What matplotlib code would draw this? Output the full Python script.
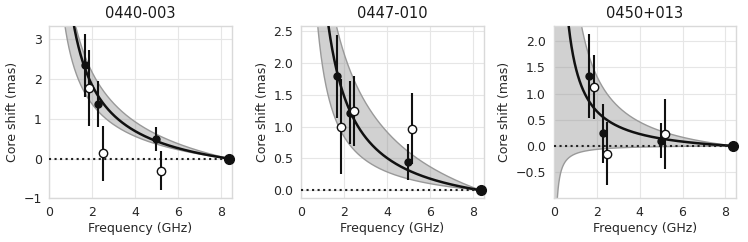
import numpy as np
import matplotlib
matplotlib.use("Agg")
import matplotlib.pyplot as plt
import seaborn as sns

sns.set_style("whitegrid")
plt.rcParams['font.family'] = ['DejaVu Sans']

titles = ["0440-003", "0447-010", "0450+013"]
nu_ref = 8.36

# measured core shifts (filled = method A, open = method B, plotted slightly offset)
freq_filled = [1.66, 2.28, 4.98]
freq_open = [1.86, 2.48, 5.18]

shift_filled = [[2.35, 1.38, 0.50], [1.79, 1.22, 0.44], [1.33, 0.24, 0.10]]
err_filled = [[0.80, 0.58, 0.30], [0.65, 0.49, 0.28], [0.80, 0.56, 0.33]]
shift_open = [[1.78, 0.13, -0.30], [1.00, 1.24, 0.97], [1.13, -0.15, 0.23]]
err_open = [[0.95, 0.70, 0.50], [0.75, 0.55, 0.55], [0.61, 0.60, 0.67]]

# fitted model  r = A * (nu^-p - nu_ref^-p) : best fit, lower and upper envelope
fit_A = [4.7, 3.9, 1.75]
fit_p = [0.8, 1.0, 1.0]
lo_A = [3.6, 2.22, -0.174]
lo_p = [0.6, 1.0, 1.0]
hi_A = [6.0, 5.96, 3.52]
hi_p = [0.5, 0.5, 1.0]

ylims = [(-1.0, 3.34), (-0.126, 2.58), (-1.0, 2.29)]
yticks = [[-1, 0, 1, 2, 3], [0.0, 0.5, 1.0, 1.5, 2.0, 2.5], [-0.5, 0.0, 0.5, 1.0, 1.5, 2.0]]
xlim = (0, 8.5)

fig = plt.figure(figsize=(7.48, 2.42), dpi=100)
lefts = [0.0659, 0.4024, 0.7402]
w, b, h = 0.244, 0.1806, 0.712


def model(nu, A, p):
    return A * (nu ** (-p) - nu_ref ** (-p))


for i in range(3):
    ax = fig.add_axes([lefts[i], b, w, h])
    nu = np.linspace(0.05, nu_ref, 800)
    lo = model(nu, lo_A[i], lo_p[i])
    hi = model(nu, hi_A[i], hi_p[i])
    ax.fill_between(nu, lo, hi, facecolor='0.55', alpha=0.4, edgecolor='none', zorder=2)
    ax.plot(nu, lo, color='0.6', lw=1.0, zorder=2)
    ax.plot(nu, hi, color='0.6', lw=1.0, zorder=2)
    ax.plot(nu, model(nu, fit_A[i], fit_p[i]), color='#111111', lw=1.8, zorder=3)
    ax.axhline(0, color='#222222', ls=':', lw=1.5, zorder=3)
    ax.errorbar(freq_filled, shift_filled[i], yerr=err_filled[i], fmt='o', color='#111111',
                ms=5, elinewidth=1.5, capsize=0, zorder=4)
    ax.errorbar(freq_open, shift_open[i], yerr=err_open[i], fmt='o', color='#111111',
                mfc='white', mec='#111111', mew=1.0, ms=6, elinewidth=1.5, capsize=0, zorder=4)
    ax.plot([nu_ref], [0], 'o', color='#111111', ms=7, zorder=5, clip_on=False)
    ax.set_xlim(*xlim)
    ax.set_ylim(*ylims[i])
    ax.set_xticks([0, 2, 4, 6, 8])
    ax.set_yticks(yticks[i])
    ax.tick_params(labelsize=9, colors='.15', pad=2)
    ax.set_xlabel("Frequency (GHz)", fontsize=9, color='.15', labelpad=2)
    ax.set_ylabel("Core shift (mas)", fontsize=9, color='.15', labelpad=3)
    ax.set_title(titles[i], fontsize=10.5, color='.1', pad=6)
    ax.grid(True, color='0.9', lw=0.8)
    for s in ax.spines.values():
        s.set_color('0.85')
        s.set_linewidth(1.0)

fig.savefig("out.png", dpi=100)
